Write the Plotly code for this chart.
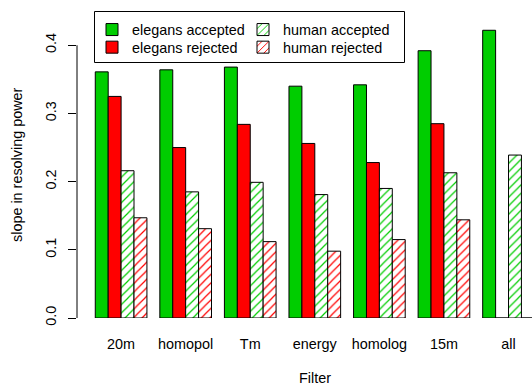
import plotly.graph_objects as go

categories = ["20m", "homopol", "Tm", "energy", "homolog", "15m", "all"]
elegans_accepted = [0.361, 0.364, 0.368, 0.340, 0.342, 0.392, 0.422]
elegans_rejected = [0.325, 0.250, 0.284, 0.256, 0.228, 0.285, 0.0]
human_accepted = [0.216, 0.185, 0.199, 0.181, 0.190, 0.213, 0.239]
human_rejected = [0.147, 0.131, 0.112, 0.098, 0.115, 0.144, 0.0]

GREEN = "#00CD00"
RED = "#FF0000"
FONT = "Liberation Sans, Arial, Helvetica, sans-serif"
FS = 14.4

L, R, T, B = 77, 0, 18, 67
W, H = 532, 385
pw = W - L - R
ph = H - T - B

def px_x(p):
    return (p - L) / pw

def px_y(p):
    return (H - B - p) / ph

fig = go.Figure()

def add(name, vals, color, hatched, legend_id):
    if hatched:
        marker = dict(color="white", line=dict(color="black", width=1),
                      pattern=dict(shape="/", fgcolor=color, bgcolor="white",
                                   size=6, solidity=0.2, fillmode="replace"))
    else:
        marker = dict(color=color, line=dict(color="black", width=1))
    fig.add_trace(go.Bar(x=categories, y=vals, name=name, marker=marker,
                         legend=legend_id))

add("elegans accepted", elegans_accepted, GREEN, False, "legend")
add("elegans rejected", elegans_rejected, RED, False, "legend2")
add("human accepted", human_accepted, GREEN, True, "legend3")
add("human rejected", human_rejected, RED, True, "legend4")

cat_px = 64.57
c0 = 121.1
x0 = (L - c0) / cat_px
x1 = (W - R - c0) / cat_px

def leg(px, py):
    return dict(x=px_x(px), y=px_y(py), xanchor="left", yanchor="middle",
                bgcolor="rgba(0,0,0,0)", borderwidth=0,
                font=dict(size=FS), itemclick=False, itemdoubleclick=False)

fig.update_layout(
    width=W, height=H,
    margin=dict(l=L, r=R, t=T, b=B, pad=0),
    plot_bgcolor="white", paper_bgcolor="white",
    barmode="group", bargap=0.2, bargroupgap=0,
    font=dict(family=FONT, size=FS, color="black"),
    xaxis=dict(range=[x0, x1], showgrid=False, zeroline=False, showline=False,
               ticks="", ticklabelstandoff=16, tickfont=dict(size=FS)),
    yaxis=dict(range=[0, 0.44], showgrid=False, zeroline=False, showline=False,
               tickvals=[0, 0.1, 0.2, 0.3, 0.4],
               ticktext=["0.0", "0.1", "0.2", "0.3", "0.4"],
               ticks="outside", ticklen=8, tickcolor="black", tickwidth=1,
               tickangle=-90, ticklabelstandoff=6, tickfont=dict(size=FS)),
    legend=leg(92, 29.7),
    legend2=leg(92, 47.3),
    legend3=leg(243, 29.7),
    legend4=leg(243, 47.3),
    showlegend=True,
)

# legend frame
fig.add_shape(type="rect", xref="paper", yref="paper",
              x0=px_x(94.5), x1=px_x(404.5), y0=px_y(62.5), y1=px_y(11.5),
              line=dict(color="black", width=1), fillcolor="white", layer="above")

fig.add_shape(type="line", xref="paper", yref="y", x0=0, x1=0, y0=0, y1=0.4,
              line=dict(color="black", width=1))

fig.add_annotation(text="slope in resolving power", textangle=-90,
                   xref="paper", yref="paper",
                   x=px_x(17), y=px_y(165),
                   xanchor="center", yanchor="middle", showarrow=False,
                   font=dict(size=FS))
fig.add_annotation(text="Filter", xref="paper", yref="paper",
                   x=px_x(315), y=px_y(378),
                   xanchor="center", yanchor="middle", showarrow=False,
                   font=dict(size=FS))

fig.write_html("out.html", config={"displayModeBar": False},
               post_script="document.body.style.margin='0';")
